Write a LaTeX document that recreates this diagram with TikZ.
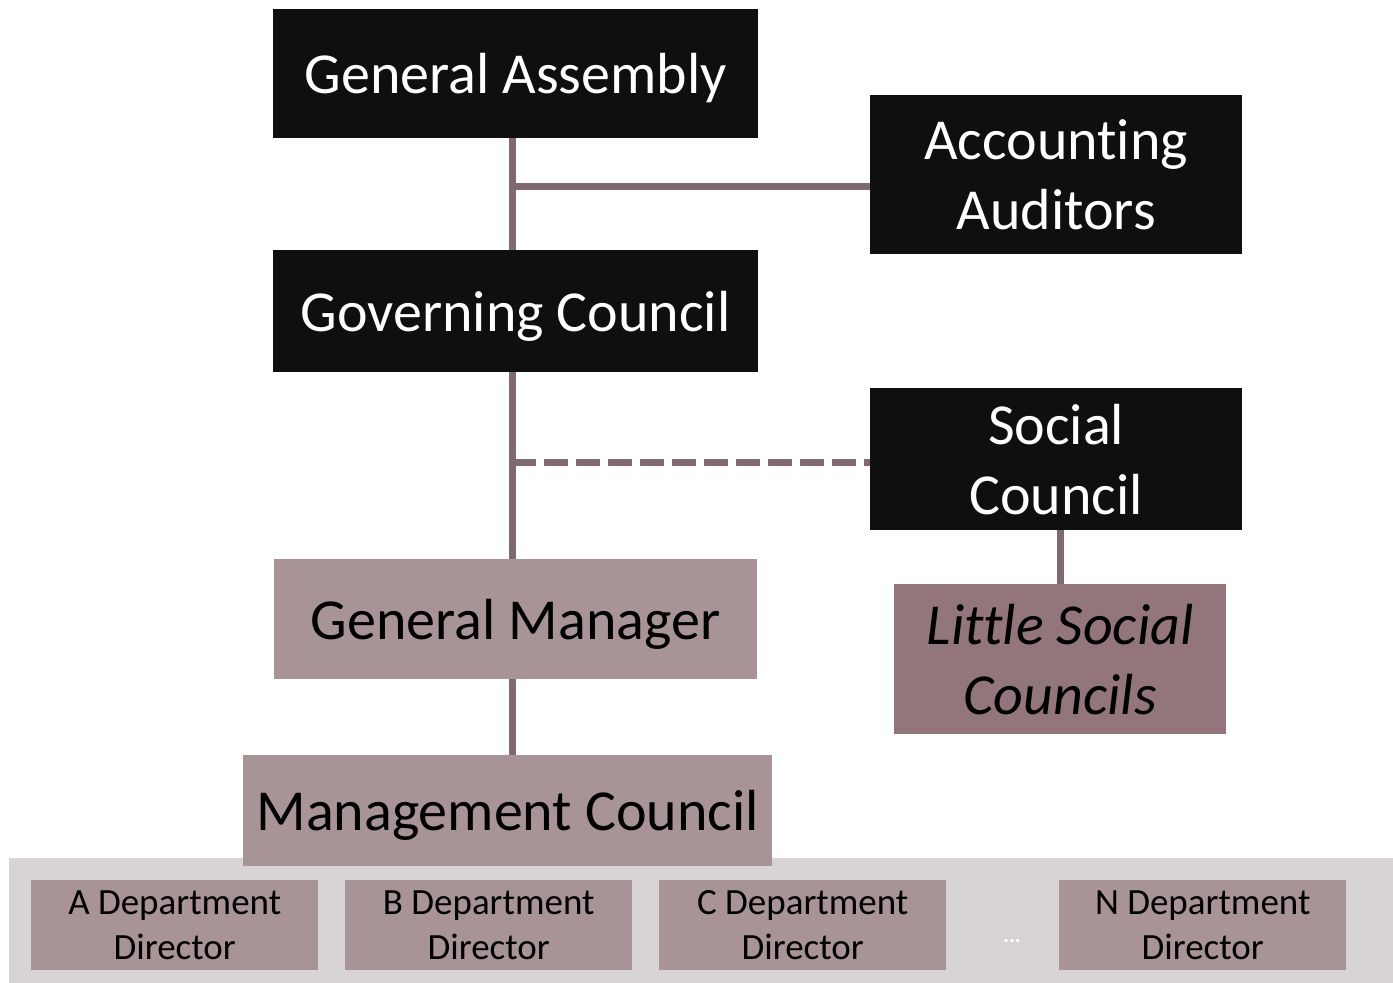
\documentclass[tikz,border=0pt]{standalone}
\usepackage{fontspec}
\setmainfont{Carlito}[Ligatures=NoCommon]
\usetikzlibrary{backgrounds}
\definecolor{linkc}{HTML}{7F6A70}
\definecolor{darkbox}{HTML}{0F0F0F}
\definecolor{mauve}{HTML}{A89396}
\definecolor{deepmauve}{HTML}{93767C}
\definecolor{band}{HTML}{D8D3D4}
\begin{document}
\begin{tikzpicture}[x=1pt,y=-1pt,
  box/.style={minimum width=#1, inner sep=0pt, align=center, anchor=north west},
  oneline/.style={text depth=0pt, font=\fontsize{58}{60}\selectfont},
  twoline/.style={font=\fontsize{58}{70}\selectfont},
  topbox/.style={fill=darkbox, text=white},
  midbox/.style={fill=mauve, text=black},
  deepbox/.style={fill=deepmauve, text=black},
  deptbox/.style={fill=mauve, text=black, minimum width=287, minimum height=90,
    inner sep=0pt, align=center, anchor=north west, font=\fontsize{37}{45}\selectfont},
  link/.style={draw=linkc, line width=7pt},
  dashlink/.style={link, dash pattern=on 24pt off 8pt}]
\useasboundingbox (0,0) rectangle (1393,983);

% boxes (positions given by their top-left corners)
\node[topbox, box=485, minimum height=129, oneline] (ga) at (273,9) {General Assembly};
\node[topbox, box=372, minimum height=159, twoline] (aa) at (870,95) {Accounting\\Auditors};
\node[topbox, box=485, minimum height=122, oneline] (gc) at (273,250) {Governing Council};
\node[topbox, box=372, minimum height=142, twoline] (sc) at (870,388) {Social\\Council};
\node[midbox, box=483, minimum height=120, oneline] (gm) at (274,559) {General Manager};
\node[deepbox, box=332, minimum height=150, twoline, font=\fontsize{58}{70}\selectfont\itshape] (lsc) at (894,584) {Little Social\\Councils};
\node[midbox, box=529, minimum height=111, oneline] (mc) at (243,755) {Management Council};

% department directors
\node[deptbox] (da) at (31,880) {A Department\\Director};
\node[deptbox] (db) at (345,880) {B Department\\Director};
\node[deptbox] (dc) at (659,880) {C Department\\Director};
\node[deptbox] (dn) at (1059,880) {N Department\\Director};
\node[text=white, font=\fontsize{22}{22}\selectfont\bfseries, inner sep=0pt] (dots) at (1012,941) {...};

% connectors and grey band sit behind the boxes
\begin{scope}[on background layer]
  \fill[white] (0,0) rectangle (1393,983);
  \fill[band] (9,858) rectangle (1393,983);
  \draw[link] (ga.south -| 512,0) -- (gc.north -| 512,0);
  \coordinate (aaj) at (512,186);
  \draw[link] (aaj) -- (aaj -| aa.west);
  \draw[link] (gc.south -| 512,0) -- (mc.north -| 512,0);
  \coordinate (scj) at (512,462);
  \draw[dashlink] (scj) -- (scj -| sc.west);
  \draw[link] (sc.south -| 1060,0) -- (lsc.north -| 1060,0);
\end{scope}
\end{tikzpicture}
\end{document}
